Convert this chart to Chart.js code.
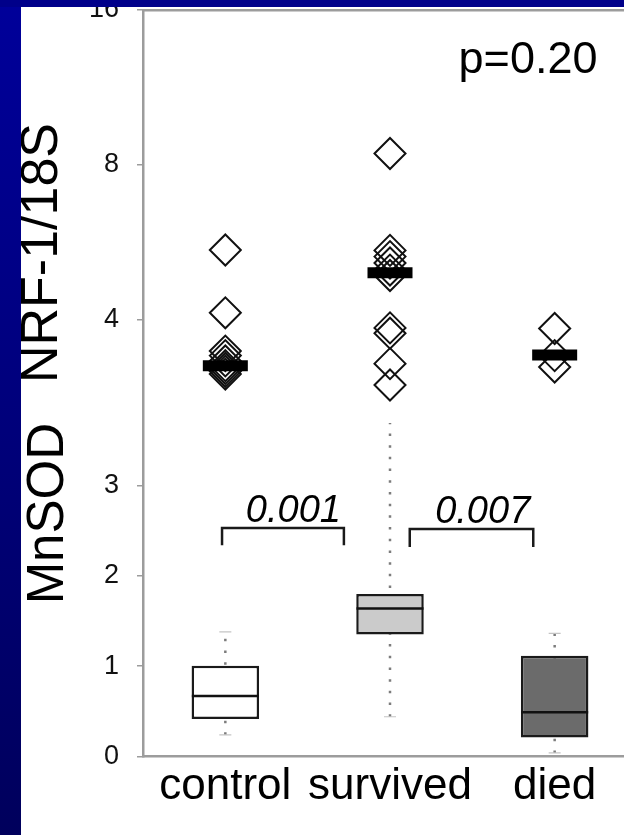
<!DOCTYPE html>
<html>
<head>
<meta charset="utf-8">
<script src="https://cdn.jsdelivr.net/npm/chart.js@4.4.1/dist/chart.umd.min.js"></script>
<style>
  html, body { margin: 0; padding: 0; width: 624px; height: 835px; overflow: hidden; background: #fff; }
  #stage { position: relative; width: 624px; height: 835px; overflow: hidden; }
  canvas { position: absolute; left: 0; }
  #nrf { top: 0; }
  #mnsod { top: 423px; background: #fff; }
  .band { position: absolute; z-index: 5; }
  #bandLeft { left: 0; top: 0; width: 21px; height: 835px; background: linear-gradient(#00009a, #00005c); }
  #bandTop { left: 0; top: 0; width: 624px; height: 7px; background: #00008a; }
</style>
</head>
<body>
<div id="stage">
  <canvas id="nrf" width="640" height="496"></canvas>
  <canvas id="mnsod" width="640" height="412"></canvas>
  <div class="band" id="bandLeft"></div>
  <div class="band" id="bandTop"></div>
</div>
<script>
const categories = ['control', 'survived', 'died'];

// NRF-1/18S: individual samples per group (log axis)
const nrfControl = [5.47, 4.13, 3.48, 3.41, 3.33, 3.26, 3.22, 3.18, 3.14];
const nrfSurvived = [8.42, 5.46, 5.31, 5.16, 5.0, 4.88, 3.86, 3.77, 3.29, 2.99];
const nrfDied = [3.85, 3.41, 3.24];
const nrfMedian = [3.26, 4.94, 3.42];
const nrfTicks = [4, 8, 16];
const nrfP = 'p=0.20';

// MnSOD: box plot summaries per group
const mnsodLow = [0.24, 0.44, 0.04];
const mnsodQ1 = [0.415, 1.35, 0.21];
const mnsodMedian = [0.67, 1.64, 0.49];
const mnsodQ3 = [1.005, 1.80, 1.116];
const mnsodHigh = [1.38, 3.95, 1.364];
const mnsodTicks = [0, 1, 2, 3];

// pairwise comparisons: bracket ends, bracket height, leg end, p value
const compFrom = [0.98, 2.12];
const compTo = [1.72, 2.87];
const compTop = [2.53, 2.52];
const compLeg = [2.34, 2.32];
const compP = ['0.001', '0.007'];

const FONT = '"Liberation Sans", Arial, Helvetica, sans-serif';
const AXIS_GREY = '#9c9c9c';
const BOX_FILL = ['#ffffff', '#cbcbcb', '#6b6b6b'];

// free text placed in data coordinates
const notesPlugin = {
  id: 'notes',
  afterDatasetsDraw(chart, args, opts) {
    const { ctx, scales: { x, y } } = chart;
    ctx.save();
    (opts.items || []).forEach(it => {
      ctx.font = it.font;
      ctx.fillStyle = '#000';
      ctx.textAlign = 'right';
      ctx.textBaseline = 'alphabetic';
      ctx.fillText(it.text, x.getPixelForValue(it.x) + (it.dx || 0), y.getPixelForValue(it.y) + (it.dy || 0));
    });
    ctx.restore();
  }
};

const groupValues = [nrfControl, nrfSurvived, nrfDied];

new Chart(document.getElementById('nrf'), {
  type: 'scatter',
  data: {
    datasets: [
      ...groupValues.map((vals, i) => ({
        label: categories[i],
        data: vals.map(v => ({ x: i + 1, y: v })),
        pointStyle: 'rectRot',
        pointRadius: 15.5,
        pointBorderWidth: 2,
        pointBorderColor: '#111',
        pointBackgroundColor: 'rgba(0,0,0,0)',
        order: 2
      })),
      {
        label: 'median',
        data: nrfMedian.map((v, i) => ({ x: i + 1, y: v })),
        pointStyle: 'line',
        pointRadius: 22.5,
        pointBorderWidth: 11,
        pointBorderColor: '#000',
        order: 1
      }
    ]
  },
  options: {
    responsive: false,
    animation: false,
    events: [],
    layout: { autoPadding: false, padding: { top: 10, left: 0, right: 3, bottom: 0 } },
    plugins: {
      legend: { display: false },
      tooltip: { enabled: false },
      notes: { items: [{ text: nrfP, x: 3.26, y: 12.07, font: '45px ' + FONT }] }
    },
    scales: {
      x: {
        type: 'linear', position: 'top', min: 0.5, max: 3.5,
        afterFit: s => { s.height = 0; s.paddingLeft = 0; s.paddingRight = 0; },
        ticks: { display: false },
        grid: { display: false, drawTicks: false },
        border: { display: true, color: AXIS_GREY, width: 2.5 }
      },
      y: {
        type: 'logarithmic', min: 1.82, max: 16,
        afterBuildTicks: s => { s.ticks = nrfTicks.map(v => ({ value: v })); },
        afterFit: s => { s.width = 143; s.paddingTop = 0; s.paddingBottom = 0; },
        ticks: { font: { family: FONT, size: 27 }, color: '#111', padding: 18, callback: v => String(v) },
        grid: { drawOnChartArea: false, drawTicks: true, tickLength: 6, color: AXIS_GREY, lineWidth: 1.5 },
        border: { display: true, color: AXIS_GREY, width: 2.5 },
        title: { display: true, text: 'NRF-1/18S', color: '#000', font: { family: FONT, size: 52, lineHeight: 1 }, padding: { top: 16.5, bottom: 0 } }
      }
    }
  },
  plugins: [notesPlugin]
});

const whiskers = categories.map((c, i) => ({
  type: 'line',
  data: [{ x: i + 1, y: mnsodLow[i] }, { x: i + 1, y: mnsodHigh[i] }],
  borderColor: '#7c7c7c',
  borderWidth: 2.5,
  borderDash: [2.5, 9.2],
  pointRadius: 0,
  order: 3
}));

const caps = {
  type: 'line',
  showLine: false,
  data: categories.flatMap((c, i) => [{ x: i + 1, y: mnsodLow[i] }, { x: i + 1, y: mnsodHigh[i] }]),
  pointStyle: 'line',
  pointRadius: 6,
  pointBorderWidth: 1.2,
  pointBorderColor: '#c4c4c4',
  order: 1
};

const brackets = compP.map((p, i) => ({
  type: 'line',
  data: [
    { x: compFrom[i], y: compLeg[i] }, { x: compFrom[i], y: compTop[i] },
    { x: compTo[i], y: compTop[i] }, { x: compTo[i], y: compLeg[i] }
  ],
  borderColor: '#1a1a1a',
  borderWidth: 2.5,
  borderJoinStyle: 'miter',
  pointRadius: 0,
  order: 0
}));

new Chart(document.getElementById('mnsod'), {
  type: 'bar',
  data: {
    datasets: [
      {
        type: 'bar',
        data: categories.map((c, i) => ({ x: i + 1, y: [mnsodQ1[i], mnsodQ3[i]] })),
        backgroundColor: BOX_FILL,
        borderColor: '#1a1a1a',
        borderWidth: 2.5,
        borderSkipped: false,
        categoryPercentage: 1,
        barPercentage: 0.41,
        order: 2
      },
      ...whiskers,
      {
        type: 'line',
        showLine: false,
        data: mnsodMedian.map((v, i) => ({ x: i + 1, y: v })),
        pointStyle: 'line',
        pointRadius: 33.5,
        pointBorderWidth: 2.5,
        pointBorderColor: '#111',
        order: 1
      },
      caps,
      ...brackets
    ]
  },
  options: {
    responsive: false,
    animation: false,
    events: [],
    layout: { autoPadding: false, padding: { top: 0, left: 0, right: 3, bottom: 0 } },
    plugins: {
      legend: { display: false },
      tooltip: { enabled: false },
      notes: {
        items: compP.map((p, i) => ({ text: p, x: compTo[i], y: compTop[i], dx: -3, dy: -6, font: 'italic 38px ' + FONT }))
      }
    },
    scales: {
      x: {
        type: 'linear', min: 0.5, max: 3.5, offset: false,
        afterBuildTicks: s => { s.ticks = categories.map((c, i) => ({ value: i + 1 })); },
        afterFit: s => { s.height = 78.5; s.paddingLeft = 0; s.paddingRight = 0; },
        ticks: { font: { family: FONT, size: 44, lineHeight: 1 }, color: '#000', padding: 8, maxRotation: 0, autoSkip: false, callback: (v, idx) => categories[idx] },
        grid: { display: false, drawTicks: false },
        border: { display: true, color: AXIS_GREY, width: 2.5 }
      },
      y: {
        min: 0, max: 3.693,
        afterBuildTicks: s => { s.ticks = mnsodTicks.map(v => ({ value: v })); },
        afterFit: s => { s.width = 143; s.paddingTop = 0; s.paddingBottom = 0; },
        ticks: { font: { family: FONT, size: 27 }, color: '#111', padding: 18, callback: v => String(v) },
        grid: { drawOnChartArea: false, drawTicks: true, tickLength: 6, color: AXIS_GREY, lineWidth: 1.5 },
        border: { display: true, color: AXIS_GREY, width: 2.5 },
        title: { display: true, text: 'MnSOD', align: 'end', color: '#000', font: { family: FONT, size: 51, lineHeight: 1 }, padding: { top: 23.5, bottom: 0 } }
      }
    }
  },
  plugins: [notesPlugin]
});
</script>
</body>
</html>
